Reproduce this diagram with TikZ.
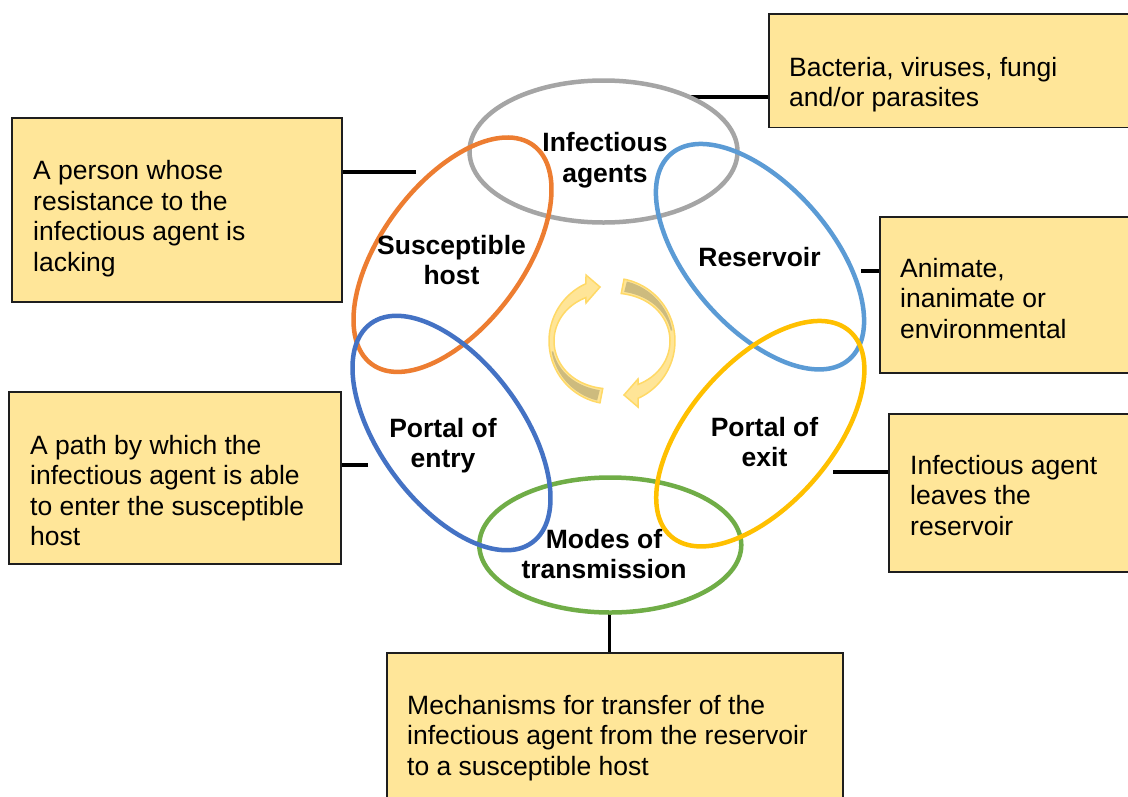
\documentclass[tikz,border=0pt]{standalone}
\usepackage{fontspec}
\setmainfont{Liberation Sans}
\usetikzlibrary{shapes.geometric,calc}
\definecolor{boxfill}{HTML}{FFE699}
\definecolor{boxline}{HTML}{1E1E1E}
\definecolor{cgray}{HTML}{A5A5A5}
\definecolor{corange}{HTML}{ED7D31}
\definecolor{cblue}{HTML}{5B9BD5}
\definecolor{cdblue}{HTML}{4472C4}
\definecolor{cyellow}{HTML}{FFC000}
\definecolor{cgreen}{HTML}{70AD47}
\definecolor{arrlight}{HTML}{FFE597}
\definecolor{arredge}{HTML}{FFD966}
\definecolor{arrdark}{HTML}{CDBB7E}
\tikzset{
  ring/.style={ellipse, draw=#1, line width=4.5pt, minimum width=272pt, minimum height=142pt, inner sep=0pt},
  box/.style={draw=boxline, fill=boxfill, line width=1.8pt, inner sep=0pt, anchor=north west},
  txt/.style={anchor=base west, align=left, inner sep=0pt, font=\fontsize{26.5}{30.6}\selectfont},
  lbl/.style={anchor=base, align=center, inner sep=0pt, font=\fontsize{26.5}{30.6}\selectfont\bfseries},
  link/.style={draw=black, line width=3.2pt},
}
\newcommand\cycarrow{%
  \filldraw[fill=arrlight, draw=arredge, line width=1.5pt]
    plot[domain=259:114.4, samples=50] ({612+63*cos(\x)},{-341+63*sin(\x)})
    -- (586,-275) -- (600,-287) -- (586,-303)
    -- plot[domain=121:259, samples=50] ({612+(58-10*sin(\x)*sin(\x))*cos(\x)},{-341+(58-10*sin(\x)*sin(\x))*sin(\x)})
    -- cycle;
  \fill[arrdark]
    plot[domain=256:190, samples=30] ({612+61.3*cos(\x)},{-341+61.3*sin(\x)})
    -- plot[domain=190:256, samples=30] ({612+(60-10*sin(\x)*sin(\x))*cos(\x)},{-341+(60-10*sin(\x)*sin(\x))*sin(\x)})
    -- cycle;
}
\begin{document}
\begin{tikzpicture}[x=1pt,y=1pt]
\clip (0,0) rectangle (1128,-796);
\fill[white] (0,0) rectangle (1128,-796);

% connector end points on the rings
\coordinate (cA) at (688,-97);
\coordinate (cB) at (416,-172);
\coordinate (cC) at (861,-271);
\coordinate (cD) at (833,-472);
\coordinate (cE) at (368,-465);
\coordinate (cF) at (609.5,-613);

% boxes
\node[box, minimum width=380pt, minimum height=113.5pt] (bagent) at (768,-13) {};
\node[box, minimum width=330pt, minimum height=184pt] (bhost) at (11,-117) {};
\node[box, minimum width=260pt, minimum height=156pt] (bres) at (879,-216) {};
\node[box, minimum width=250pt, minimum height=158pt] (bexit) at (888,-413) {};
\node[box, minimum width=332pt, minimum height=172pt] (bentry) at (8,-391) {};
\node[box, minimum width=456pt, minimum height=160pt] (bmodes) at (386,-652) {};

% connectors
\draw[link] (cA) -- (cA -| bagent.west);
\draw[link] (cB) -- (cB -| bhost.east);
\draw[link] (cC) -- (cC -| bres.west);
\draw[link] (cD) -- (cD -| bexit.west);
\draw[link] (cE) -- (cE -| bentry.east);
\draw[link] (cF) -- (cF |- bmodes.north);

% box texts (anchored at the baseline of the last line)
\node[txt] (tagent) at (789,-106.6) {Bacteria, viruses, fungi\\and/or parasites};
\node[txt] (thost) at (33,-271.3) {A person whose\\resistance to the\\infectious agent is\\lacking};
\node[txt] (tres) at (900,-338.2) {Animate,\\inanimate or\\environmental};
\node[txt] (texit) at (910,-535.2) {Infectious agent\\leaves the\\reservoir};
\node[txt] (tentry) at (30,-545.8) {A path by which the\\infectious agent is able\\to enter the susceptible\\host};
\node[txt] (tmodes) at (407,-775.2) {Mechanisms for transfer of the\\infectious agent from the reservoir\\to a susceptible host};

% rings
\node[ring=cgray, minimum width=268pt, minimum height=142pt] (agents) at (603.5,-151.5) {};
\node[ring=cgreen, minimum width=262pt, minimum height=135pt] (modes) at (610.3,-545) {};
\node[ring=corange, rotate=53.5] (host) at (452.5,-254.7) {};
\node[ring=cblue, rotate=-49] (res) at (760,-256.7) {};
\node[ring=cdblue, rotate=-53.5] (entry) at (451.5,-433) {};
\node[ring=cyellow, rotate=49] (exit) at (760.3,-433.7) {};

% ring labels
\node[lbl] (lagents) at (605,-182.1) {Infectious\\agents};
\node[lbl] (lhost) at (451.5,-284.6) {Susceptible\\host};
\node[lbl] (lres) at (759.5,-266) {Reservoir};
\node[lbl] (lexit) at (764.5,-466.6) {Portal of\\exit};
\node[lbl] (lentry) at (443,-467.6) {Portal of\\entry};
\node[lbl] (lmodes) at (604,-578.6) {Modes of\\transmission};

% central cycle arrows
\cycarrow
\begin{scope}[rotate around={180:(612,-341)}]
\cycarrow
\end{scope}
\end{tikzpicture}
\end{document}
